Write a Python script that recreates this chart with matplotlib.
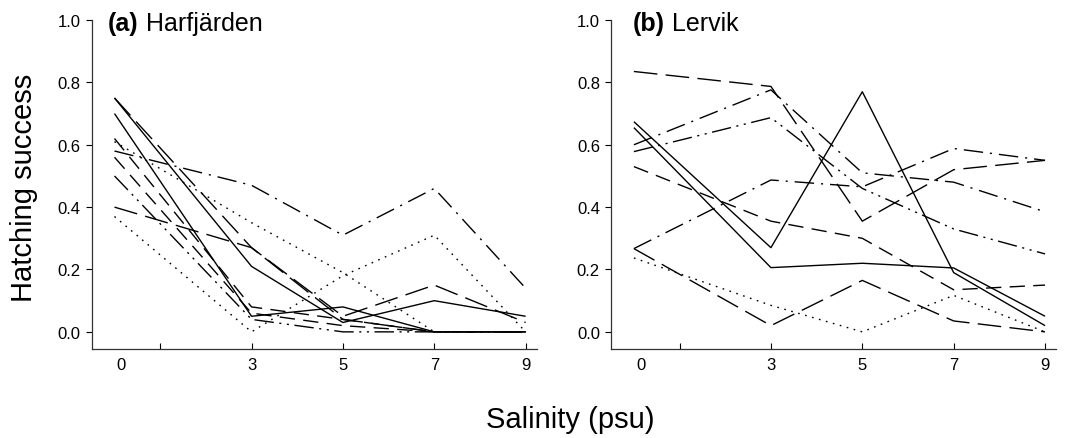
import matplotlib
matplotlib.use("Agg")
import matplotlib.pyplot as plt

plt.rcParams['font.family'] = ['Liberation Sans', 'DejaVu Sans']
plt.rcParams['lines.scale_dashes'] = False

salinity = [0, 3, 5, 7, 9]
tick_positions = [1, 3, 5, 7, 9]
tick_labels = ['', '3', '5', '7', '9']
y_ticks = [0.0, 0.2, 0.4, 0.6, 0.8, 1.0]

# Panel (a) Harfjärden
harf_solid_1 = [0.75, 0.21, 0.03, 0.10, 0.05]
harf_solid_2 = [0.70, 0.05, 0.08, 0.00, 0.00]
harf_longdash_1 = [0.75, 0.27, 0.05, 0.15, 0.03]
harf_dashdot_1 = [0.58, 0.47, 0.31, 0.46, 0.14]
harf_dotted_1 = [0.61, 0.35, 0.19, 0.00, 0.00]
harf_dotted_2 = [0.37, 0.00, 0.18, 0.31, 0.00]
harf_longdash_2 = [0.40, 0.27, 0.04, 0.00, 0.00]
harf_dashed_1 = [0.62, 0.08, 0.04, 0.00, 0.00]
harf_dashed_2 = [0.56, 0.06, 0.02, 0.00, 0.00]
harf_dashdot_2 = [0.50, 0.04, 0.00, 0.00, 0.00]

# Panel (b) Lervik
lerv_longdash_1 = [0.835, 0.787, 0.355, 0.52, 0.55]
lerv_dashdot_1 = [0.60, 0.776, 0.51, 0.48, 0.385]
lerv_dashdotdot_1 = [0.578, 0.687, 0.46, 0.33, 0.25]
lerv_solid_1 = [0.674, 0.27, 0.77, 0.19, 0.02]
lerv_solid_2 = [0.655, 0.206, 0.22, 0.205, 0.05]
lerv_dashed_1 = [0.53, 0.355, 0.30, 0.135, 0.15]
lerv_dashdot_2 = [0.267, 0.487, 0.465, 0.588, 0.55]
lerv_longdash_2 = [0.267, 0.02, 0.165, 0.035, 0.0]
lerv_dotted_1 = [0.237, 0.085, 0.0, 0.117, 0.0]

STY = {
    'solid': (0, ()),
    'longdash': (0, (17, 6)),
    'dashed': (0, (11, 6)),
    'dashdot': (0, (14, 5, 1.5, 5)),
    'dashdotdot': (0, (14, 4, 1.5, 4, 1.5, 4)),
    'dotted': (0, (1.2, 4)),
}

harf_series = [
    (harf_solid_1, 'solid'), (harf_solid_2, 'solid'),
    (harf_longdash_1, 'longdash'), (harf_dashdot_1, 'dashdot'),
    (harf_dotted_1, 'dotted'), (harf_dotted_2, 'dotted'),
    (harf_longdash_2, 'longdash'), (harf_dashed_1, 'dashed'),
    (harf_dashed_2, 'dashed'), (harf_dashdot_2, 'dashdotdot'),
]
lerv_series = [
    (lerv_longdash_1, 'longdash'), (lerv_dashdot_1, 'dashdot'),
    (lerv_dashdotdot_1, 'dashdotdot'), (lerv_solid_1, 'solid'),
    (lerv_solid_2, 'solid'), (lerv_dashed_1, 'dashed'),
    (lerv_dashdot_2, 'dashdot'), (lerv_longdash_2, 'longdash'),
    (lerv_dotted_1, 'dotted'),
]

fig = plt.figure(figsize=(10.72, 4.39), dpi=100)
ax_a = fig.add_axes([0.0855, 0.2027, 0.4155, 0.7494])
ax_b = fig.add_axes([0.570, 0.2027, 0.4155, 0.7494])


def style_axes(ax):
    ax.set_xlim(-0.5, 9.25)
    ax.set_ylim(-0.055, 1.0)
    for s in ['top', 'right']:
        ax.spines[s].set_visible(False)
    for s in ['left', 'bottom']:
        ax.spines[s].set_linewidth(0.9)
        ax.spines[s].set_color('#333333')
    ax.set_xticks(tick_positions)
    ax.set_xticklabels(tick_labels)
    ax.set_xticks([0.15], minor=True)
    ax.set_xticklabels(['0'], minor=True)
    ax.tick_params(axis='x', which='major', direction='in', length=4, width=0.8,
                   pad=6, labelsize=12)
    ax.tick_params(axis='x', which='minor', direction='in', length=0, pad=6,
                   labelsize=12)
    ax.set_yticks(y_ticks)
    ax.set_yticklabels([f'{v:.1f}' for v in y_ticks])
    ax.tick_params(axis='y', direction='out', length=4, width=0.8, pad=4,
                   labelsize=12)


for ax, series in [(ax_a, harf_series), (ax_b, lerv_series)]:
    style_axes(ax)
    for vals, st in series:
        ax.plot(salinity, vals, color='black', lw=1.0, linestyle=STY[st],
                solid_capstyle='butt', dash_capstyle='butt')


def panel_title(ax, x, tag, name):
    t = ax.text(x, 0.991, tag, transform=ax.transAxes, fontsize=18,
                fontweight='bold', ha='left', va='center')
    ax.annotate(' ' + name, xy=(1, 0), xycoords=t, fontsize=18,
                ha='left', va='bottom')


panel_title(ax_a, 0.037, '(a)', 'Harfjärden')
panel_title(ax_b, 0.049, '(b)', 'Lervik')

fig.text(0.022, 0.572, 'Hatching success', rotation=90, fontsize=21,
         ha='center', va='center')
fig.text(0.532, 0.043, 'Salinity (psu)', fontsize=21, ha='center',
         va='center')

fig.savefig('out.png', dpi=100)
